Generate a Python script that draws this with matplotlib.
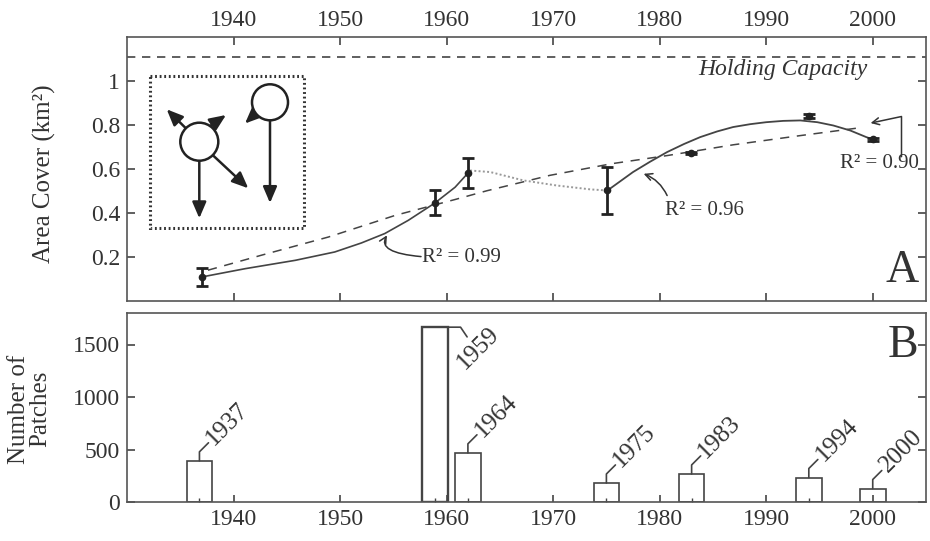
import numpy as np
import matplotlib
matplotlib.use('Agg')
import matplotlib.pyplot as plt
from matplotlib.patches import Circle, Rectangle

plt.rcParams['font.family'] = ['Liberation Serif', 'DejaVu Serif']
plt.rcParams['text.color'] = '#333333'
plt.rcParams['xtick.color'] = '#444444'
plt.rcParams['ytick.color'] = '#444444'
plt.rcParams['xtick.labelcolor'] = '#333333'
plt.rcParams['ytick.labelcolor'] = '#333333'

##### DATA #################################################################

# panel A : measured area cover with error bars
year_pts  = [1937.0, 1958.9, 1962.0, 1975.1, 1982.9, 1994.0, 2000.0]
area_pts  = [0.107, 0.445, 0.580, 0.501, 0.671, 0.839, 0.734]
area_err  = [0.040, 0.056, 0.067, 0.107, 0.006, 0.010, 0.006]

# fitted curve 1937-1962 (R2 = 0.99)
fit1_year = [1937.0, 1941.1, 1945.8, 1949.5, 1952.0, 1954.2, 1956.4, 1958.9, 1960.8, 1962.0]
fit1_area = [0.107, 0.145, 0.183, 0.221, 0.262, 0.305, 0.365, 0.444, 0.516, 0.580]

# gap 1962-1975 (dotted)
gap_year  = [1962.2, 1964.1, 1967.2, 1970.3, 1973.5, 1975.1]
gap_area  = [0.592, 0.585, 0.547, 0.524, 0.506, 0.501]

# fitted curve 1975-2000 (R2 = 0.96)
fit2_year = [1975.1, 1977.5, 1979.1, 1980.7, 1982.3, 1983.8, 1985.4, 1986.9, 1988.5,
             1990.0, 1991.6, 1993.2, 1994.8, 1996.3, 1997.9, 1999.4, 2000.0]
fit2_area = [0.501, 0.585, 0.632, 0.676, 0.713, 0.744, 0.770, 0.790, 0.803,
             0.812, 0.818, 0.820, 0.812, 0.797, 0.774, 0.744, 0.734]

# logistic curve (R2 = 0.90)
logi_year = [1937.6, 1942.6, 1948.9, 1955.2, 1960.8, 1963.8, 1969.7, 1975.5, 1980.7, 1986.9, 1993.2, 1999.0]
logi_area = [0.138, 0.206, 0.289, 0.388, 0.460, 0.500, 0.570, 0.623, 0.660, 0.709, 0.751, 0.788]

capacity  = 1.11

# panel B : number of patches
bar_year  = [1936.8, 1958.9, 1962.0, 1975.0, 1983.0, 1994.0, 2000.0]
bar_count = [392, 1665, 468, 181, 267, 233, 128]
bar_label = ['1937', '1959', '1964', '1975', '1983', '1994', '2000']

##### FIGURE ###############################################################

fig = plt.figure(figsize=(9.3, 5.41), dpi=100)
W, H = 930., 541.
ax1 = fig.add_axes([127/W, 1-300.5/H, 799/W, 263.5/H])
ax2 = fig.add_axes([127/W, 1-502/H, 799/W, 189/H])

for ax in (ax1, ax2):
    for s in ax.spines.values():
        s.set_color('#555555')
        s.set_linewidth(1.2)

# ___ PANEL A _________
ax1.axhline(capacity, color='#444444', lw=1.2, ls=(0, (5, 4)))
ax1.plot(logi_year, logi_area, color='#444444', lw=1.1, ls=(0, (6, 5)))
ax1.plot(fit1_year, fit1_area, color='#444444', lw=1.2)
ax1.plot(gap_year, gap_area, color='#999999', lw=1.4, ls=(0, (1, 1.2)))
ax1.plot(fit2_year, fit2_area, color='#444444', lw=1.3)
ax1.errorbar(year_pts, area_pts, yerr=area_err, fmt='o', ms=4.5, color='#222222',
             elinewidth=2, capsize=4, capthick=2)

ax1.set_xlim(1930, 2005)
ax1.set_ylim(0, 1.2)
ax1.set_xticks(range(1940, 2001, 10))
ax1.set_yticks([0.2, 0.4, 0.6, 0.8, 1.0])
ax1.set_yticklabels(['0.2', '0.4', '0.6', '0.8', '1'])
ax1.tick_params(axis='x', top=True, bottom=True, labeltop=True, labelbottom=False,
                direction='in', length=6, width=1.2, labelsize=17, pad=4)
ax1.tick_params(axis='y', left=True, right=True, direction='in', length=6, width=1.2,
                labelsize=17, pad=5)

ax1.text(1999.5, 1.05, 'Holding Capacity', style='italic', fontsize=17, ha='right', va='center')
ax1.text(2004.3, 0.135, 'A', fontsize=33, ha='right', va='center')

arw = dict(arrowstyle='->,head_length=0.5,head_width=0.25', color='#333333', lw=1.1,
           shrinkA=0, shrinkB=0)
ax1.annotate('', xy=(1954.4, 0.297), xytext=(1957.6, 0.200),
             arrowprops=dict(arw, connectionstyle='angle3,angleA=175,angleB=60'))
ax1.text(1957.7, 0.197, 'R² = 0.99', fontsize=15, ha='left', va='center')

ax1.annotate('', xy=(1978.5, 0.577), xytext=(1980.7, 0.478),
             arrowprops=dict(arw, connectionstyle='arc3,rad=0.2'))
ax1.text(1980.5, 0.41, 'R² = 0.96', fontsize=15, ha='left', va='center')

ax1.annotate('', xy=(1999.8, 0.808), xytext=(2002.7, 0.655),
             arrowprops=dict(arw, connectionstyle='angle,angleA=90,angleB=12,rad=0'))
ax1.text(1996.9, 0.624, 'R² = 0.90', fontsize=15, ha='left', va='center')

# ___ INSET SKETCH _________
axi = fig.add_axes([148/W, 1-230/H, 158/W, 156/H])
axi.set_xlim(-2, 156)
axi.set_ylim(154, -2)
axi.axis('off')
axi.add_patch(Rectangle((0, 0), 154, 152, fill=False, edgecolor='#333333', lw=2.2,
                        ls=(0, (0.6, 0.9))))

ina = dict(arrowstyle='-|>,head_length=0.7,head_width=0.3', color='#222222', lw=1.8,
           shrinkA=0, shrinkB=0, mutation_scale=14)
for (x0, y0), (x1, y1) in [((49.3, 84.7), (49.3, 142.3)),
                           ((62.7, 79.1), (98.3, 112.3)),
                           ((35.9, 52.3), (16.7, 33.3)),
                           ((60.0, 50.0), (76.0, 39.0)),
                           ((120.0, 44.3), (120.0, 127.0)),
                           ((104.0, 39.0), (95.0, 47.5))]:
    axi.annotate('', xy=(x1, y1), xytext=(x0, y0), arrowprops=ina)
axi.add_patch(Circle((49.3, 65.7), 19, facecolor='white', edgecolor='#222222', lw=1.8, zorder=3))
axi.add_patch(Circle((120.0, 26.3), 18, facecolor='white', edgecolor='#222222', lw=1.8, zorder=3))

# ___ PANEL B _________
lws = [1.2] * len(bar_year)
lws[1] = 1.7
ax2.bar(bar_year, bar_count, width=2.4, facecolor='white', edgecolor='#444444', linewidth=lws)

ax2.set_xlim(1930, 2005)
ax2.set_ylim(0, 1800)
ax2.set_xticks(range(1940, 2001, 10))
ax2.set_xticks(bar_year, minor=True)
ax2.set_yticks([0, 500, 1000, 1500])
ax2.tick_params(axis='x', which='major', direction='in', length=5, width=1.2, labelsize=17, pad=5)
ax2.tick_params(axis='x', which='minor', direction='in', length=3, width=1.0)
ax2.tick_params(axis='y', left=True, right=True, direction='in', length=6, width=1.2,
                labelsize=17, pad=5)
ax2.text(2004.3, 1490, 'B', fontsize=33, ha='right', va='center')

for i in range(len(bar_year)):
    x, h = bar_year[i], bar_count[i]
    if bar_label[i] == '1959':
        ax2.annotate('', xy=(x + 1.2, h), xytext=(14, -7), textcoords='offset points',
                     arrowprops=dict(arrowstyle='-', color='#444444', lw=1.2, shrinkA=0, shrinkB=0,
                                     connectionstyle='angle,angleA=124,angleB=0,rad=0'))
        ax2.annotate(bar_label[i], xy=(x + 1.2, h), xytext=(22, -15), textcoords='offset points',
                     rotation=45, rotation_mode='anchor', ha='center', va='center', fontsize=18)
    else:
        ax2.annotate('', xy=(x, h), xytext=(6.5, 13), textcoords='offset points',
                     arrowprops=dict(arrowstyle='-', color='#444444', lw=1.2, shrinkA=0, shrinkB=0,
                                     connectionstyle='angle,angleA=45,angleB=90,rad=0'))
        ax2.annotate(bar_label[i], xy=(x, h), xytext=(7.5, 14), textcoords='offset points',
                     rotation=45, rotation_mode='anchor', ha='left', va='center', fontsize=18)

# ___ AXIS TITLES _________
fig.text(44/W, 1-174/H, 'Area Cover (km²)', rotation=90, ha='center', va='center', fontsize=18)
fig.text(30/W, 1-409/H, 'Number of\nPatches', rotation=90, ha='center', va='center',
         fontsize=18, multialignment='center', linespacing=0.95)

fig.savefig('out.png', dpi=100)
